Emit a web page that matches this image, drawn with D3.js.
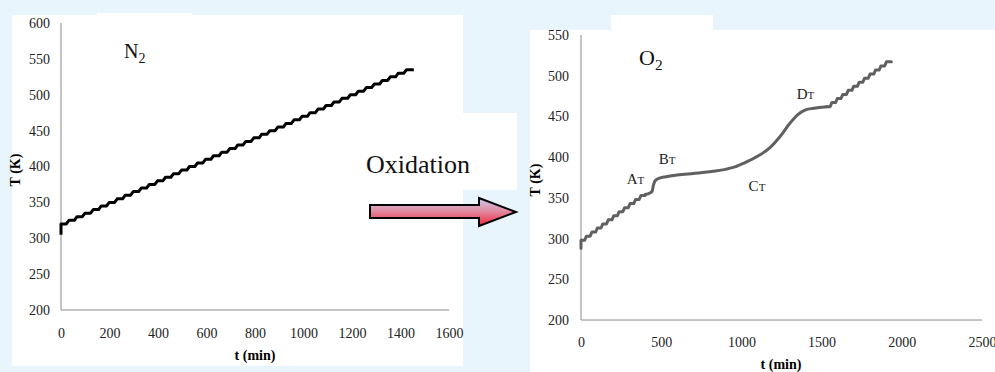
<!DOCTYPE html>
<html>
<head>
<meta charset="utf-8">
<script src="https://cdn.jsdelivr.net/npm/d3@7"></script>
<style>
  body { margin: 0; background: #e9f5fc; }
  svg { display: block; font-family: "Liberation Serif", "Times New Roman", serif; }
  .tick text { font-size: 14px; fill: #222; }
</style>
</head>
<body>
<div id="chart"></div>
<script>
// ---- data ----
// N2 run: start point, then a staircase (level K holds from time[i] to time[i+1])
var n2Start = [0, 305];
var n2Times = [0, 33, 66, 99, 133, 166, 199, 232, 265, 298, 331, 364, 398, 431, 464,
  497, 530, 563, 596, 629, 663, 696, 729, 762, 795, 828, 861, 894, 928, 961, 994,
  1027, 1060, 1093, 1126, 1159, 1193, 1226, 1259, 1292, 1325, 1358, 1391, 1425, 1455];
var n2Levels = [320, 325, 330, 335, 340, 345, 350, 355, 360, 365, 370, 375, 380, 385, 390,
  395, 400, 405, 410, 415, 420, 425, 430, 435, 440, 445, 450, 455, 460, 465, 470,
  475, 480, 485, 490, 495, 500, 505, 510, 515, 520, 525, 530, 535];

// O2 run: staircase, smooth reaction region, staircase again
var o2Start = [0, 288];
var o2Step1Times = [0, 34, 68, 102, 136, 170, 204, 238, 272, 306, 340, 374, 400];
var o2Step1Levels = [298, 303, 308, 313, 318, 323, 328, 333, 338, 343, 348, 353];
var o2SmoothTimes = [400, 430, 443, 452, 462, 485, 530, 600, 700, 800, 900, 960, 1020,
  1100, 1180, 1240, 1300, 1350, 1400, 1450, 1530];
var o2SmoothTemps = [354, 356, 358, 366, 371, 374, 376, 378, 380, 382, 385, 388, 393,
  401, 412, 425, 441, 452, 458, 460, 462];
var o2Step2Times = [1530, 1564, 1598, 1632, 1666, 1700, 1734, 1768, 1802, 1836, 1870, 1904, 1935];
var o2Step2Levels = [462, 467, 472, 477, 482, 487, 492, 497, 502, 507, 512, 517];

var leftXTicks = [0, 200, 400, 600, 800, 1000, 1200, 1400, 1600];
var leftYTicks = [200, 250, 300, 350, 400, 450, 500, 550, 600];
var rightXTicks = [0, 500, 1000, 1500, 2000, 2500];
var rightYTicks = [200, 250, 300, 350, 400, 450, 500, 550];

var stageLabels = [
  { main: "A", sub: "T", t: 285, T: 367 },
  { main: "B", sub: "T", t: 485, T: 391 },
  { main: "C", sub: "T", t: 1045, T: 358 },
  { main: "D", sub: "T", t: 1345, T: 471 }
];

var svgWidth = 995;
var svgHeight = 372;
var axisColor = "#8a8a8a";

var svg = d3.select("#chart")
  .append("svg")
  .attr("width", svgWidth)
  .attr("height", svgHeight);

// gradient for the arrow
var grad = svg.append("defs").append("linearGradient")
  .attr("id", "arrowGrad")
  .attr("x1", 0).attr("y1", 0).attr("x2", 0).attr("y2", 1);
grad.append("stop").attr("offset", "0%").attr("stop-color", "#cbc9ec");
grad.append("stop").attr("offset", "45%").attr("stop-color", "#e08ea4");
grad.append("stop").attr("offset", "100%").attr("stop-color", "#f1263a");

// white panels behind the two charts and the label
svg.append("rect").attr("x", 12).attr("y", 15).attr("width", 451).attr("height", 351).attr("fill", "#fff");
svg.append("rect").attr("x", 97).attr("y", 13).attr("width", 95).attr("height", 3).attr("fill", "#fff");
svg.append("rect").attr("x", 460).attr("y", 113).attr("width", 57).attr("height", 77).attr("fill", "#fff");
svg.append("rect").attr("x", 530).attr("y", 30).attr("width", 465).attr("height", 342).attr("fill", "#fff");
svg.append("rect").attr("x", 611).attr("y", 15).attr("width", 102).attr("height", 16).attr("fill", "#fff");

// turn a staircase (times + levels) into line points, each riser takes `rise` minutes
function stepPoints(times, levels, rise) {
  var pts = [];
  levels.forEach(function(lv, i) {
    pts.push([times[i], lv]);
    var end = times[i + 1];
    pts.push([i < levels.length - 1 ? end - rise : end, lv]);
  });
  return pts;
}

function drawAxes(g, x, y, xTicks, yTicks, xPad, yPad) {
  var x0 = x.range()[0], x1 = x.range()[1];
  var y0 = y.range()[0], y1 = y.range()[1];

  g.append("g")
    .attr("transform", `translate(0, ${y0})`)
    .call(d3.axisBottom(x).tickValues(xTicks).tickSize(0).tickPadding(xPad).tickFormat(d3.format("d")))
    .attr("font-family", null)
    .attr("font-size", null)
    .call(function(a) { a.select(".domain").remove(); });

  g.append("g")
    .attr("transform", `translate(${x0}, 0)`)
    .call(d3.axisLeft(y).tickValues(yTicks).tickSize(0).tickPadding(yPad).tickFormat(d3.format("d")))
    .attr("font-family", null)
    .attr("font-size", null)
    .call(function(a) { a.select(".domain").remove(); });

  g.append("line")
    .attr("x1", x0).attr("x2", x1).attr("y1", y0).attr("y2", y0)
    .attr("stroke", axisColor).attr("stroke-width", 1);
  g.append("line")
    .attr("x1", x0).attr("x2", x0).attr("y1", y0).attr("y2", y1)
    .attr("stroke", axisColor).attr("stroke-width", 1);
}

function addGasLabel(g, letter, sub, x, yBase, size) {
  var t = g.append("text")
    .attr("x", x).attr("y", yBase)
    .attr("font-size", size)
    .attr("fill", "#111");
  t.append("tspan").text(letter);
  t.append("tspan").attr("dy", 5).attr("font-size", size * 0.7).text(sub);
}

function addTitles(g, xTitle, xx, xy, yTitle, yx, yy) {
  g.append("text")
    .attr("x", xx).attr("y", xy)
    .attr("text-anchor", "middle")
    .attr("font-size", 14).attr("font-weight", "bold")
    .text(xTitle);
  g.append("text")
    .attr("transform", `translate(${yx}, ${yy}) rotate(-90)`)
    .attr("text-anchor", "middle")
    .attr("font-size", 14).attr("font-weight", "bold")
    .text(yTitle);
}

// ---- left chart: N2 ----
var xLeft = d3.scaleLinear().domain([0, 1600]).range([61, 449]);
var yLeft = d3.scaleLinear().domain([200, 600]).range([310, 23]);
var leftGroup = svg.append("g");
drawAxes(leftGroup, xLeft, yLeft, leftXTicks, leftYTicks, 18, 11);
addTitles(leftGroup, "t (min)", 255, 360, "T (K)", 20, 170);
addGasLabel(leftGroup, "N", "2", 124, 58, 20);

var lineLeft = d3.line()
  .x(function(d) { return xLeft(d[0]); })
  .y(function(d) { return yLeft(d[1]); });

leftGroup.append("path")
  .datum([n2Start].concat(stepPoints(n2Times, n2Levels, 11)))
  .attr("d", lineLeft)
  .attr("fill", "none")
  .attr("stroke", "#000")
  .attr("stroke-width", 3)
  .attr("stroke-linejoin", "round");

// ---- right chart: O2 ----
var xRight = d3.scaleLinear().domain([0, 2500]).range([581, 982]);
var yRight = d3.scaleLinear().domain([200, 550]).range([320, 35]);
var rightGroup = svg.append("g");
drawAxes(rightGroup, xRight, yRight, rightXTicks, rightYTicks, 17, 12);
addTitles(rightGroup, "t (min)", 781, 369, "T (K)", 540, 180);
addGasLabel(rightGroup, "O", "2", 639, 65, 22);

var lineRight = d3.line()
  .x(function(d) { return xRight(d[0]); })
  .y(function(d) { return yRight(d[1]); });
var smoothRight = d3.line()
  .x(function(d) { return xRight(d[0]); })
  .y(function(d) { return yRight(d[1]); })
  .curve(d3.curveMonotoneX);

var o2Color = "#606060";
var o2Paths = [
  { d: lineRight([o2Start].concat(stepPoints(o2Step1Times, o2Step1Levels, 11))) },
  { d: smoothRight(o2SmoothTimes.map(function(t, i) { return [t, o2SmoothTemps[i]]; })) },
  { d: lineRight(stepPoints(o2Step2Times, o2Step2Levels, 11)) }
];
rightGroup.selectAll("path.o2")
  .data(o2Paths)
  .enter()
  .append("path")
  .attr("class", "o2")
  .attr("d", function(d) { return d.d; })
  .attr("fill", "none")
  .attr("stroke", o2Color)
  .attr("stroke-width", 3)
  .attr("stroke-linejoin", "round")
  .attr("stroke-linecap", "round");

// stage labels A_T .. D_T
var stages = rightGroup.selectAll("text.stage")
  .data(stageLabels)
  .enter()
  .append("text")
  .attr("class", "stage")
  .attr("x", function(d) { return xRight(d.t); })
  .attr("y", function(d) { return yRight(d.T); })
  .attr("font-size", 15)
  .attr("fill", "#222");
stages.append("tspan").text(function(d) { return d.main; });
stages.append("tspan").attr("font-size", 11).text(function(d) { return d.sub; });

// ---- "Oxidation" label and arrow ----
svg.append("text")
  .attr("x", 366).attr("y", 173)
  .attr("font-size", 26)
  .attr("fill", "#111")
  .text("Oxidation");

svg.append("path")
  .attr("d", "M370,205 L479,205 L479,198 L516,212 L479,226 L479,218 L370,218 Z")
  .attr("fill", "url(#arrowGrad)")
  .attr("stroke", "#000")
  .attr("stroke-width", 2)
  .attr("stroke-linejoin", "miter");
</script>
</body>
</html>
